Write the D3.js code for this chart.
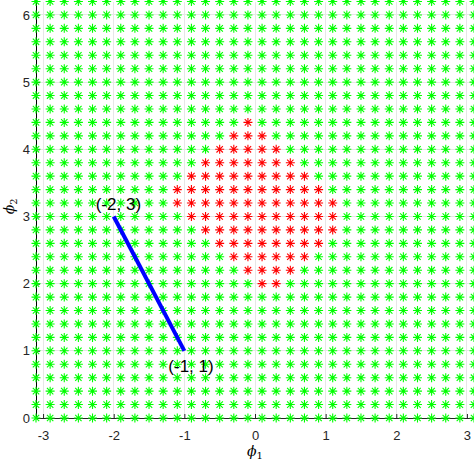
<!DOCTYPE html>
<html>
<head>
<meta charset="utf-8">
<script src="https://cdn.jsdelivr.net/npm/d3@7"></script>
<style>
  html, body { margin: 0; padding: 0; background: #fff; }
  svg { display: block; }
</style>
</head>
<body>
<div id="chart"></div>
<script>
// ---- data ----
const xValues = [-3.1, -2.9, -2.7, -2.5, -2.3, -2.1, -1.9, -1.7, -1.5, -1.3, -1.1, -0.9, -0.7, -0.5, -0.3, -0.1,
                 0.1, 0.3, 0.5, 0.7, 0.9, 1.1, 1.3, 1.5, 1.7, 1.9, 2.1, 2.3, 2.5, 2.7, 2.9, 3.1];
const yValues = [0, 0.2, 0.4, 0.6, 0.8, 1.0, 1.2, 1.4, 1.6, 1.8, 2.0, 2.2, 2.4, 2.6, 2.8, 3.0,
                 3.2, 3.4, 3.6, 3.8, 4.0, 4.2, 4.4, 4.6, 4.8, 5.0, 5.2, 5.4, 5.6, 5.8, 6.0, 6.2];
// red region: for each row y, red from redLo to redHi (inclusive)
const redRows = [4.4, 4.2, 4.0, 3.8, 3.6, 3.4, 3.2, 3.0, 2.8, 2.6, 2.4, 2.2, 2.0];
const redLo   = [-0.1, -0.3, -0.5, -0.7, -0.9, -1.1, -1.1, -0.9, -0.7, -0.5, -0.3, -0.1, 0.1];
const redHi   = [-0.1, 0.1, 0.3, 0.5, 0.7, 0.9, 1.1, 1.1, 1.1, 0.9, 0.7, 0.5, 0.3];
const xTicks = [-3, -2, -1, 0, 1, 2, 3];
const yTicks = [0, 1, 2, 3, 4, 5, 6];
const segment = [[-2, 3], [-1, 1]];
const labels = [{p: [-2, 3], text: "(-2, 3)", dx: -18, dy: -6.5}, {p: [-1, 1], text: "(-1, 1)", dx: -16, dy: 21}];

// ---- layout ----
const W = 474, H = 462;
const x = d3.scaleLinear().domain([-3.1, 3.1]).range([36, 474]);
const y = d3.scaleLinear().domain([0, 6.2]).range([418, 1.5]);
const fmt = d => String(d);

const svg = d3.select("#chart").append("svg").attr("width", W).attr("height", H);

// grid
svg.append("g").selectAll("line").data(xTicks).join("line")
  .attr("x1", d => x(d)).attr("x2", d => x(d)).attr("y1", y(0)).attr("y2", y(6.2))
  .attr("stroke", "#e6e6e6").attr("stroke-width", 1).attr("shape-rendering", "crispEdges");
svg.append("g").selectAll("line").data(yTicks).join("line")
  .attr("y1", d => y(d)).attr("y2", d => y(d)).attr("x1", x(-3.1)).attr("x2", x(3.1))
  .attr("stroke", "#e6e6e6").attr("stroke-width", 1).attr("shape-rendering", "crispEdges");

// axes
const xAxis = d3.axisBottom(x).tickValues(xTicks).tickFormat(fmt).tickSizeInner(-4).tickSizeOuter(0).tickPadding(13);
const gx = svg.append("g").attr("transform", `translate(0,${y(0)})`).call(xAxis);
gx.select(".domain").attr("stroke", "#262626");
gx.selectAll(".tick line").attr("stroke", "#262626");
gx.selectAll("text").attr("font-family", "Liberation Sans, Arial, sans-serif").attr("font-size", 13).attr("fill", "#262626");

const yAxis = d3.axisLeft(y).tickValues(yTicks).tickFormat(fmt).tickSizeInner(-4).tickSizeOuter(0).tickPadding(6);
const gy = svg.append("g").attr("transform", `translate(${x(-3.1)},0)`).call(yAxis);
gy.select(".domain").attr("stroke", "#000");
gy.selectAll(".tick line").attr("stroke", "#262626");
gy.selectAll("text").attr("font-family", "Liberation Sans, Arial, sans-serif").attr("font-size", 13).attr("fill", "#262626");

// points
function isRed(px, py) {
  for (let i = 0; i < redRows.length; i++) {
    if (Math.abs(redRows[i] - py) < 1e-6 && px >= redLo[i] - 1e-6 && px <= redHi[i] + 1e-6) return true;
  }
  return false;
}
const pts = [];
yValues.forEach(py => xValues.forEach(px => pts.push({px, py, red: isRed(px, py)})));
const star = "M-4.5,0H4.5M0,-4.5V4.5M-3.2,-3.2L3.2,3.2M-3.2,3.2L3.2,-3.2";
svg.append("g").selectAll("path").data(pts).join("path")
  .attr("d", star)
  .attr("transform", d => `translate(${x(d.px)},${y(d.py)})`)
  .attr("fill", "none")
  .attr("stroke", d => d.red ? "#ff0000" : "#00ff00")
  .attr("stroke-width", 1.1);

// segment
svg.append("line")
  .attr("x1", x(segment[0][0])).attr("y1", y(segment[0][1]))
  .attr("x2", x(segment[1][0])).attr("y2", y(segment[1][1]))
  .attr("stroke", "#0000ff").attr("stroke-width", 4);

svg.append("g").selectAll("text").data(labels).join("text")
  .attr("x", d => x(d.p[0]) + d.dx).attr("y", d => y(d.p[1]) + d.dy)
  .attr("font-family", "Liberation Sans, Arial, sans-serif").attr("font-size", 17).attr("fill", "#000")
  .text(d => d.text);

// axis labels
const xl = svg.append("text").attr("x", x(0)).attr("y", 456).attr("text-anchor", "middle")
  .attr("font-family", "DejaVu Serif, Liberation Serif, serif").attr("font-size", 14).attr("fill", "#000");
xl.append("tspan").attr("font-style", "italic").text("ϕ");
xl.append("tspan").attr("font-size", 10).attr("dy", 3).text("1");

const yl = svg.append("text").attr("transform", `translate(14,${y(3.15)}) rotate(-90)`).attr("text-anchor", "middle")
  .attr("font-family", "DejaVu Serif, Liberation Serif, serif").attr("font-size", 14).attr("fill", "#000");
yl.append("tspan").attr("font-style", "italic").text("ϕ");
yl.append("tspan").attr("font-size", 10).attr("dy", 3).text("2");
</script>
</body>
</html>
